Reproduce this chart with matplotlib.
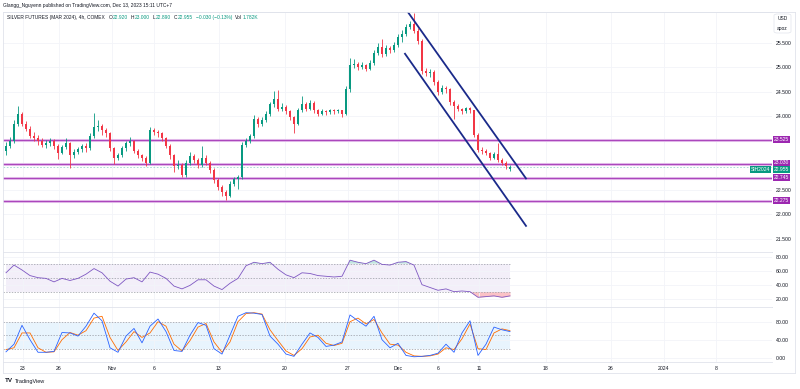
import numpy as np
import matplotlib.pyplot as plt
from matplotlib.transforms import blended_transform_factory
from matplotlib.patches import FancyBboxPatch

plt.rcParams['font.family'] = ['Liberation Sans', 'DejaVu Sans']

# 4h candles, Oct 20 -> Dec 13 2023
opens = [23.30, 23.40, 23.50, 23.85, 24.05, 23.85, 23.75, 23.60, 23.55, 23.50,
         23.42, 23.45, 23.50, 23.40, 23.25, 23.38, 23.45, 23.20, 23.28, 23.33,
         23.40, 23.35, 23.60, 23.78, 23.80, 23.72, 23.65, 23.35, 23.15, 23.20,
         23.35, 23.45, 23.50, 23.30, 23.20, 23.15, 23.05, 23.72, 23.68, 23.65,
         23.55, 23.40, 23.20, 22.98, 23.00, 22.80, 23.05, 23.18, 23.10, 23.00,
         23.15, 23.05, 22.90, 22.70, 22.55, 22.45, 22.38, 22.62, 22.72, 22.76,
         23.42, 23.50, 23.60, 23.95, 23.85, 23.92, 24.05, 24.25, 24.35, 24.15,
         24.20, 24.10, 23.98, 23.85, 24.12, 24.25, 24.15, 24.28, 24.12, 24.05,
         24.10, 24.08, 24.12, 24.10, 24.12, 24.05, 24.55, 25.05, 25.08, 25.00,
         25.05, 24.97, 25.10, 25.30, 25.42, 25.28, 25.40, 25.35, 25.45, 25.62,
         25.68, 25.82, 25.88, 25.75, 25.55, 24.92, 24.88, 24.90, 24.70, 24.50,
         24.58, 24.55, 24.30, 24.22, 24.15, 24.10, 24.17, 24.12, 23.62, 23.32,
         23.30, 23.25, 23.15, 23.22, 23.10, 23.05, 22.92]
highs = [23.48, 23.58, 23.92, 24.22, 24.08, 23.90, 23.80, 23.68, 23.62, 23.56,
         23.52, 23.55, 23.54, 23.44, 23.42, 23.56, 23.48, 23.34, 23.38, 23.44,
         23.45, 23.66, 24.06, 23.92, 23.84, 23.76, 23.68, 23.38, 23.26, 23.40,
         23.50, 23.58, 23.52, 23.34, 23.24, 23.18, 23.78, 23.76, 23.72, 23.68,
         23.58, 23.44, 23.22, 23.10, 23.04, 23.10, 23.28, 23.22, 23.14, 23.40,
         23.20, 23.08, 22.94, 22.74, 22.60, 22.50, 22.68, 22.76, 22.80, 23.48,
         23.56, 23.64, 24.02, 23.98, 23.98, 24.10, 24.30, 24.52, 24.54, 24.28,
         24.24, 24.14, 24.00, 24.18, 24.42, 24.30, 24.34, 24.32, 24.16, 24.16,
         24.14, 24.16, 24.16, 24.16, 24.14, 24.62, 25.20, 25.18, 25.12, 25.12,
         25.08, 25.16, 25.36, 25.50, 25.58, 25.46, 25.44, 25.52, 25.68, 25.76,
         25.88, 25.96, 26.12, 25.80, 25.58, 24.98, 24.96, 24.94, 24.74, 24.64,
         24.62, 24.58, 24.34, 24.26, 24.18, 24.20, 24.20, 24.14, 23.66, 23.38,
         23.34, 23.28, 23.28, 23.46, 23.14, 23.08, 23.00]
lows = [23.20, 23.36, 23.46, 23.80, 23.80, 23.70, 23.55, 23.50, 23.42, 23.38,
        23.36, 23.40, 23.34, 23.12, 23.22, 23.33, 22.95, 23.14, 23.22, 23.28,
        23.28, 23.32, 23.56, 23.70, 23.62, 23.58, 23.30, 23.02, 23.10, 23.16,
        23.30, 23.40, 23.26, 23.14, 23.08, 22.98, 23.02, 23.62, 23.58, 23.50,
        23.36, 23.12, 22.86, 22.92, 22.76, 22.76, 23.00, 23.04, 22.94, 22.96,
        23.00, 22.84, 22.64, 22.50, 22.38, 22.28, 22.35, 22.58, 22.52, 22.72,
        23.38, 23.46, 23.56, 23.78, 23.80, 23.88, 24.00, 24.20, 24.10, 24.10,
        24.04, 23.92, 23.66, 23.82, 24.08, 24.10, 24.12, 24.06, 24.00, 24.02,
        24.02, 24.04, 24.05, 24.06, 23.98, 24.02, 24.50, 24.98, 24.95, 24.96,
        24.92, 24.94, 25.06, 25.26, 25.22, 25.24, 25.30, 25.32, 25.42, 25.52,
        25.64, 25.78, 25.70, 25.48, 24.86, 24.82, 24.80, 24.64, 24.44, 24.46,
        24.48, 24.24, 23.95, 24.10, 24.04, 24.06, 24.06, 23.58, 23.28, 23.24,
        23.20, 23.10, 23.12, 23.06, 23.00, 22.92, 22.89]
closes = [23.40, 23.50, 23.85, 24.05, 23.85, 23.75, 23.60, 23.55, 23.50, 23.42,
          23.45, 23.50, 23.40, 23.25, 23.38, 23.45, 23.20, 23.28, 23.33, 23.40,
          23.35, 23.60, 23.78, 23.80, 23.72, 23.65, 23.35, 23.15, 23.20, 23.35,
          23.45, 23.50, 23.30, 23.20, 23.15, 23.05, 23.72, 23.68, 23.65, 23.55,
          23.40, 23.20, 22.98, 23.00, 22.80, 23.05, 23.18, 23.10, 23.00, 23.15,
          23.05, 22.90, 22.70, 22.55, 22.45, 22.38, 22.62, 22.72, 22.76, 23.42,
          23.50, 23.60, 23.95, 23.85, 23.92, 24.05, 24.25, 24.35, 24.15, 24.20,
          24.10, 23.98, 23.85, 24.12, 24.25, 24.15, 24.28, 24.12, 24.05, 24.10,
          24.08, 24.12, 24.10, 24.12, 24.05, 24.55, 25.05, 25.08, 25.00, 25.05,
          24.97, 25.10, 25.30, 25.42, 25.28, 25.40, 25.35, 25.45, 25.62, 25.68,
          25.82, 25.88, 25.75, 25.55, 24.92, 24.88, 24.90, 24.70, 24.50, 24.58,
          24.55, 24.30, 24.22, 24.15, 24.10, 24.17, 24.12, 23.62, 23.32, 23.30,
          23.25, 23.15, 23.22, 23.10, 23.05, 22.98, 22.955]

# indicators, one reading every second candle
rsi = [57, 68, 61, 53, 50, 49, 44, 49, 46, 49,
       55, 63, 57, 45, 38, 48, 50, 44, 58, 55,
       49, 38, 34, 39, 47, 47, 38, 33, 42, 49,
       67, 72, 70, 72, 62, 54, 50, 57, 56, 53,
       52, 51, 52, 75, 72, 70, 75, 69, 68, 72,
       73, 68, 40, 36, 32, 34, 30, 31, 30, 22,
       23, 24, 22, 24]
stoch_k = [13, 30, 72, 40, 12, 12, 14, 56, 55, 48,
           70, 99, 82, 22, 12, 48, 65, 33, 70, 86,
           58, 16, 14, 50, 78, 72, 20, 8, 50, 92,
           100, 99, 96, 48, 30, 8, 3, 30, 55, 45,
           25, 28, 35, 95, 82, 70, 92, 40, 22, 32,
           5, 2, 3, 5, 10, 30, 12, 55, 82, 5,
           30, 68, 62, 58]
stoch_d = [18, 22, 55, 55, 22, 12, 13, 40, 56, 50,
           60, 88, 92, 45, 16, 35, 58, 45, 55, 80,
           70, 30, 15, 38, 68, 76, 35, 12, 35, 80,
           98, 100, 97, 62, 38, 15, 5, 20, 46, 50,
           32, 27, 32, 80, 88, 75, 85, 55, 30, 28,
           12, 4, 3, 4, 8, 22, 18, 42, 75, 20,
           18, 55, 64, 60]

x_tick_pos = [4.2, 13.25, 26.5, 37, 53.25, 69.75, 85.5, 98.1, 108, 118.25,
              135, 151.25, 164.5, 177.5]
x_tick_labels = ['23', '26', 'Nov', '6', '13', '20', '27', 'Dec', '6', '11',
                 '18', '26', '2024', '8']
price_ticks = [21.5, 22.0, 22.5, 23.0, 23.5, 24.0, 24.5, 25.0, 25.5]
price_tick_labels = ['21.500', '22.000', '22.500', '', '', '24.000', '24.500',
                     '25.000', '25.500']

levels = [23.525, 23.030, 22.745, 22.275]
last_price = 22.955
upper_x, upper_y = [100.5, 130], [26.13, 22.73]
lower_x, lower_y = [99.75, 130], [25.28, 21.76]

UP, DOWN = '#089981', '#f23645'
PURPLE = '#9c27b0'
GRID = '#f2f4f9'
TXT = '#131722'

W, H = 800, 389
fig = plt.figure(figsize=(W / 100, H / 100), dpi=100)


def px_axes(x0, y0, x1, y1):
    return fig.add_axes([x0 / W, 1 - y1 / H, (x1 - x0) / W, (y1 - y0) / H])


ax = px_axes(3, 12, 772, 251.7)
ax_rsi = px_axes(3, 251.7, 772, 307.3)
ax_st = px_axes(3, 307.3, 772, 362)

for a in (ax, ax_rsi, ax_st):
    a.set_xlim(-0.75, 191.5)
    a.set_xticks(x_tick_pos)
    a.yaxis.tick_right()
    a.tick_params(length=0, labelsize=3.7, labelcolor=TXT, pad=2.5)
    a.grid(color=GRID, lw=0.6, zorder=0)
    for s in a.spines.values():
        s.set_color('#e0e3eb')
        s.set_linewidth(0.6)
    a.spines['right'].set_visible(False)
ax.tick_params(labelbottom=False)
ax_rsi.tick_params(labelbottom=False)
ax_st.set_xticklabels(x_tick_labels)
ax_st.tick_params(axis='x', pad=3)

# price pane
o = np.array(opens)
c = np.array(closes)
x = np.arange(len(c))
col = np.where(c >= o, UP, DOWN)
ax.vlines(x, lows, highs, colors=col, lw=0.6, zorder=3)
ax.bar(x, np.maximum(np.abs(c - o), 0.012), bottom=np.minimum(o, c),
       width=0.6, color=col, zorder=3)

ax.set_ylim(21.232, 26.134)
ax.set_yticks(price_ticks)
ax.set_yticklabels(price_tick_labels)

for lv in levels:
    ax.axhline(lv, color='#e8c6ef', lw=2.2, zorder=2)
    ax.axhline(lv, color='#ab47bc', lw=0.9, zorder=2)
ax.axhline(last_price, color='#9fd8cf', lw=0.6, ls=(0, (2, 2)), zorder=2)

ax.plot(upper_x, upper_y, color='#1a2a8a', lw=1.3, zorder=4)
ax.plot(lower_x, lower_y, color='#1a2a8a', lw=1.3, zorder=4)

# price-scale labels; the two that collide are nudged apart like on TV
tr = blended_transform_factory(fig.transFigure, ax.transData)
box = dict(boxstyle='square,pad=0.15', ec='none')
nudge = {23.030: 0.02}
for lv in levels:
    ax.text(774 / W, lv + nudge.get(lv, 0), '%.3f' % lv, transform=tr,
            fontsize=3.6, color='white', va='center', ha='left', zorder=6,
            clip_on=False, bbox=dict(box, fc=PURPLE))
ax.text(774 / W, last_price - 0.045, '%.3f' % last_price, transform=tr,
        fontsize=3.6, color='white', va='center', ha='left', zorder=7,
        clip_on=False, bbox=dict(box, fc=UP))
ax.text(751 / W, last_price - 0.045, 'SIH2024', transform=tr, fontsize=3.6,
        color='white', va='center', ha='left', zorder=7, clip_on=False,
        bbox=dict(box, fc=UP))

# RSI pane
xi = np.arange(len(rsi)) * 2
r = np.array(rsi, dtype=float)
ax_rsi.set_ylim(7.7, 87.1)
ax_rsi.set_yticks([20, 40, 60, 80])
ax_rsi.set_yticklabels(['20.00', '40.00', '60.00', '80.00'])
ax_rsi.fill_between([xi[0], xi[-1]], 30, 70, color='#7e57c2', alpha=0.09, lw=0)
for lv in (30, 50, 70):
    ax_rsi.axhline(lv, xmax=(xi[-1] + 0.75) / 192.25, color='#9598a1',
                   lw=0.5, ls=(0, (2, 2)))
ax_rsi.fill_between(xi, r, 30, where=r < 30, interpolate=True,
                    color=DOWN, alpha=0.3, lw=0)
ax_rsi.fill_between(xi, r, 70, where=r > 70, interpolate=True,
                    color=UP, alpha=0.25, lw=0)
ax_rsi.plot(xi, r, color='#7e57c2', lw=0.6)

# Stochastic pane
ax_st.set_ylim(-9.6, 112)
ax_st.set_yticks([0, 40, 80])
ax_st.set_yticklabels(['0.00', '40.00', '80.00'])
ax_st.fill_between([xi[0], xi[-1]], 20, 80, color='#2196f3', alpha=0.1, lw=0)
for lv in (20, 50, 80):
    ax_st.axhline(lv, xmax=(xi[-1] + 0.75) / 192.25, color='#9598a1',
                  lw=0.5, ls=(0, (2, 2)))
ax_st.plot(xi, stoch_d, color='#ff6d00', lw=0.6)
ax_st.plot(xi, stoch_k, color='#2962ff', lw=0.6)

# frame of the whole chart
for xs, ys in [([3, 795], [373, 373]), ([3, 795], [12, 12]),
               ([795, 795], [12, 373]), ([3, 3], [362, 373])]:
    fig.add_artist(plt.Line2D([v / W for v in xs], [1 - v / H for v in ys],
                              transform=fig.transFigure, color='#e0e3eb',
                              lw=0.6))

# header
fig.text(3 / W, 1 - 6 / H,
         'Glangg_Nguyenn published on TradingView.com, Dec 13, 2023 15:11 UTC+7',
         fontsize=3.5, color=TXT, va='center')

renderer = fig.canvas.get_renderer()
hy = 1 - 17.5 / H
parts = [('SILVER FUTURES (MAR 2024), 4h, COMEX', TXT, 4),
         ('O', TXT, 0.3), ('22.920', UP, 3),
         ('H', TXT, 0.3), ('23.000', UP, 3),
         ('L', TXT, 0.3), ('22.890', UP, 3),
         ('C', TXT, 0.3), ('22.955', UP, 3),
         ('\u22120.030 (\u22120.13%)', UP, 3),
         ('Vol', TXT, 0.3), ('1.782K', UP, 0)]
px = 7
for s, cl, gap in parts:
    t = fig.text(px / W, hy, s, fontsize=3.5, color=cl, va='center')
    px += t.get_window_extent(renderer=renderer).width + gap

fig.add_artist(FancyBboxPatch((774 / W, 1 - 33 / H), 17 / W, 19 / H,
                              boxstyle='round,pad=0,rounding_size=0.004',
                              transform=fig.transFigure, fc='white',
                              ec='#e0e3eb', lw=0.5))
fig.text(782.5 / W, 1 - 19 / H, 'USD', fontsize=3.5, color=TXT,
         ha='center', va='center')
fig.text(782.5 / W, 1 - 28.5 / H, 'apoz', fontsize=3.5, color=TXT,
         ha='center', va='center')

fig.text(5 / W, 1 - 381 / H, 'TV', fontsize=4.5, color=TXT,
         fontweight='bold', va='center')
fig.text(15 / W, 1 - 381 / H, 'TradingView', fontsize=4, color=TXT,
         va='center')

fig.savefig('out.png', dpi=100, facecolor='white')
